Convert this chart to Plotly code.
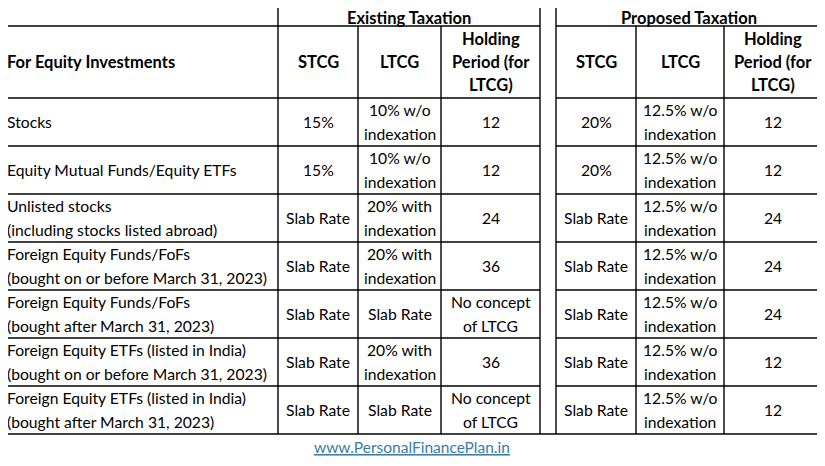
import plotly.graph_objects as go

# table content
investments = [
    "Stocks",
    "Equity Mutual Funds/Equity ETFs",
    "Unlisted stocks\n(including stocks listed abroad)",
    "Foreign Equity Funds/FoFs\n(bought on or before March 31, 2023)",
    "Foreign Equity Funds/FoFs\n(bought after March 31, 2023)",
    "Foreign Equity ETFs (listed in India)\n(bought on or before March 31, 2023)",
    "Foreign Equity ETFs (listed in India)\n(bought after March 31, 2023)",
]
existing_stcg = ["15%", "15%", "Slab Rate", "Slab Rate", "Slab Rate", "Slab Rate", "Slab Rate"]
existing_ltcg = ["10% w/o\nindexation", "10% w/o\nindexation", "20% with\nindexation",
                 "20% with\nindexation", "Slab Rate", "20% with\nindexation", "Slab Rate"]
existing_holding = ["12", "12", "24", "36", "No concept\nof LTCG", "36", "No concept\nof LTCG"]
proposed_stcg = ["20%", "20%", "Slab Rate", "Slab Rate", "Slab Rate", "Slab Rate", "Slab Rate"]
proposed_ltcg = ["12.5% w/o\nindexation"] * 7
proposed_holding = ["12", "12", "24", "24", "24", "12", "12"]

group_headers = ["Existing Taxation", "Proposed Taxation"]
col_headers = ["STCG", "LTCG", "Holding\nPeriod (for\nLTCG)"]
first_header = "For Equity Investments"
footer = "www.PersonalFinancePlan.in"

# layout grid (pixel units on the axes); page body has an 8px margin
W, H = 825, 466
PAD = 8
x_edges = [2, 278, 358, 441, 540, 556, 636, 724, 821]
y_edges = [3, 26, 98, 146, 194, 242, 290, 338, 386, 434]
FONT = "Lato"
LINE_H = 24
FS = 15.7
FS_BOLD = 16.5
TEXT_LEFT = 5

fig = go.Figure()
annotations = []


def add_cell(text, x, y, bold=False, align="center", line_h=LINE_H):
    lines = text.split("\n")
    n = len(lines)
    xs = 0
    if align == "left":
        # anchor must stay inside the axis range
        xs = x - PAD
        x = PAD
    for i, ln in enumerate(lines):
        t = f"<b>{ln}</b>" if bold else ln
        annotations.append(dict(
            x=x, y=y, xref="x", yref="y", text=t, showarrow=False,
            xanchor="left" if align == "left" else "center", yanchor="middle",
            xshift=xs, yshift=-(i - (n - 1) / 2) * line_h,
            font=dict(family=FONT, size=FS_BOLD if bold else FS, color="#000000"),
        ))


def center(a, b):
    return (a + b) / 2


# headers
add_cell(group_headers[0], center(x_edges[1], x_edges[4]), 17.5, bold=True)
add_cell(group_headers[1], center(x_edges[5], x_edges[8]), 17.5, bold=True)
add_cell(first_header, TEXT_LEFT, center(y_edges[1], y_edges[2]), bold=True, align="left")
for k, h in enumerate(col_headers):
    add_cell(h, center(x_edges[1 + k], x_edges[2 + k]), center(y_edges[1], y_edges[2]), bold=True, line_h=23)
    add_cell(h, center(x_edges[5 + k], x_edges[6 + k]), center(y_edges[1], y_edges[2]), bold=True, line_h=23)

# body
columns = [existing_stcg, existing_ltcg, existing_holding, None,
           proposed_stcg, proposed_ltcg, proposed_holding]
for r, name in enumerate(investments):
    yc = center(y_edges[2 + r], y_edges[3 + r])
    add_cell(name, TEXT_LEFT, yc, align="left")
    for c, col in enumerate(columns):
        if col is None:
            continue
        add_cell(col[r], center(x_edges[1 + c], x_edges[2 + c]), yc)

annotations.append(dict(
    x=412, y=447, xref="x", yref="y", showarrow=False,
    text=f"<u>{footer}</u>", font=dict(family=FONT, size=15.5, color="#3A7CA5"),
))

# grid lines
shapes = []
line = dict(color="black", width=1.4)
for y in y_edges[1:-1]:
    shapes.append(dict(type="line", x0=x_edges[0], x1=x_edges[4], y0=y, y1=y, line=line))
    shapes.append(dict(type="line", x0=x_edges[5], x1=x_edges[8], y0=y, y1=y, line=line))
shapes.append(dict(type="line", x0=x_edges[0], x1=x_edges[8], y0=y_edges[-1], y1=y_edges[-1], line=line))
for i in [1, 4, 5]:
    shapes.append(dict(type="line", x0=x_edges[i], x1=x_edges[i], y0=y_edges[0], y1=y_edges[-1], line=line))
for i in [2, 3, 6, 7]:
    shapes.append(dict(type="line", x0=x_edges[i], x1=x_edges[i], y0=y_edges[1], y1=y_edges[-1], line=line))

fig.update_layout(
    width=W - PAD, height=H - PAD,
    margin=dict(l=0, r=0, t=0, b=0),
    paper_bgcolor="white", plot_bgcolor="white",
    xaxis=dict(range=[PAD, W], visible=False, fixedrange=True),
    yaxis=dict(range=[H, PAD], visible=False, fixedrange=True),
    annotations=annotations, shapes=shapes,
    showlegend=False,
)

fig.write_html("out.html")
